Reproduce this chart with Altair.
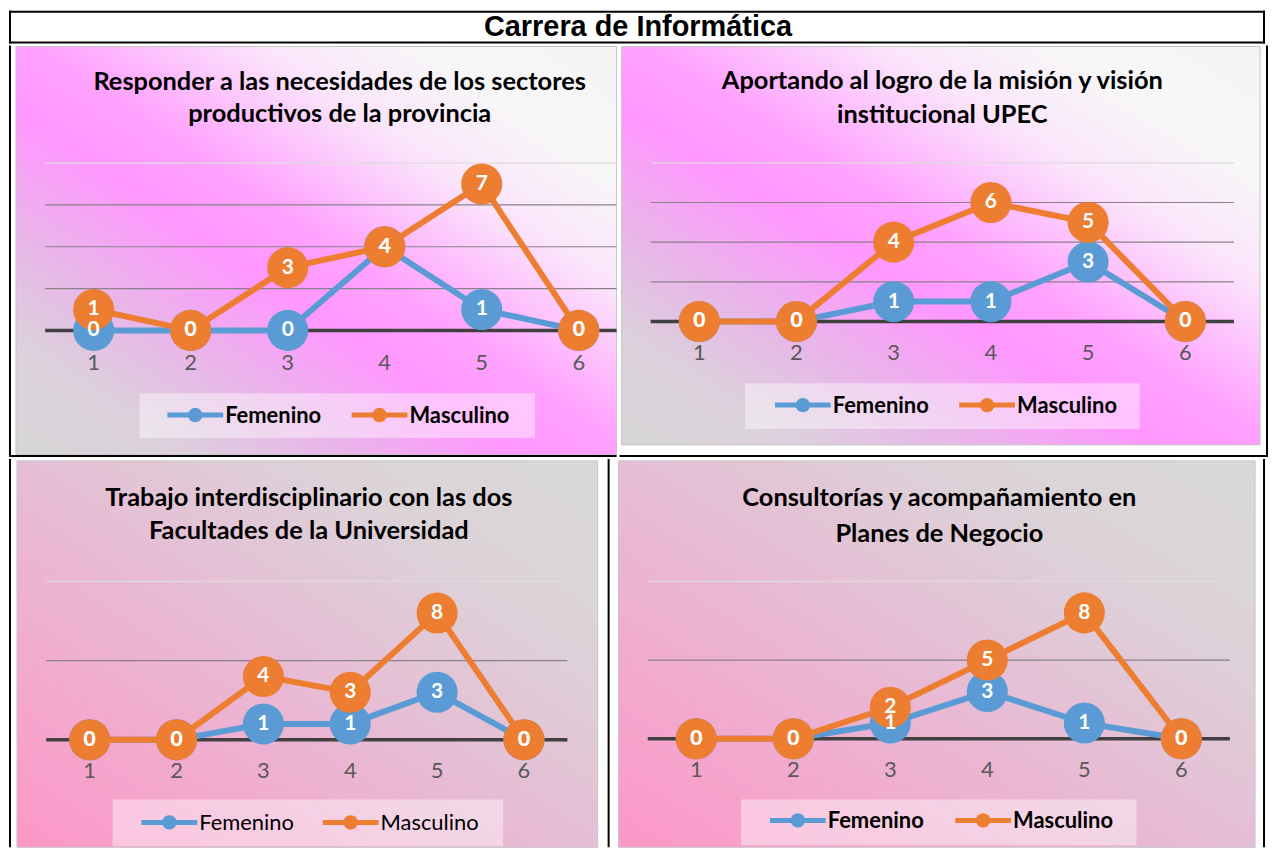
import altair as alt
import pandas as pd

# ---------------- data ----------------
categorias = [1, 2, 3, 4, 5, 6]
series = ["Femenino", "Masculino"]
colores = ["#5B9BD5", "#ED7D31"]

titulo_general = "Carrera de Informática"

titulos = [
    ["Responder a las necesidades de los sectores", "productivos de la provincia"],
    ["Aportando al logro de la misión y visión", "institucional UPEC"],
    ["Trabajo interdisciplinario con las dos", "Facultades de la Universidad"],
    ["Consultorías y acompañamiento en", "Planes de Negocio"],
]

fem_1 = [0, 0, 0, 4, 1, 0]
mas_1 = [1, 0, 3, 4, 7, 0]
fem_2 = [0, 0, 1, 1, 3, 0]
mas_2 = [0, 0, 4, 6, 5, 0]
fem_3 = [0, 0, 1, 1, 3, 0]
mas_3 = [0, 0, 4, 3, 8, 0]
fem_4 = [0, 0, 1, 3, 1, 0]
mas_4 = [0, 0, 2, 5, 8, 0]

rejilla_12 = [2, 4, 6, 8]
rejilla_34 = [5, 10]

# ---------------- style / layout ----------------
FONT = "Lato"


def grad(stops):
    return alt.LinearGradient(
        gradient="linear", x1=0, y1=1, x2=1, y2=0,
        stops=[alt.GradientStop(color=c, offset=o) for o, c in stops])


GRAD_A = grad([(0, "#d6d6d6"), (0.14, "#dcd0dc"), (0.28, "#eab4ea"), (0.42, "#ff97ff"),
               (0.52, "#ffa2ff"), (0.7, "#fbe4fb"), (0.84, "#f7f7f7"), (1, "#f4f4f4")])
GRAD_B = grad([(0, "#fd97c8"), (0.45, "#e8bad4"), (0.75, "#dcd2d8"), (1, "#d9d9d9")])

LAYOUT = [
    dict(W=610, H=413, px1=85, px6=572, zero=286, unit=21.0, bg=(7, 1, 610, 411), grad=GRAD_A,
         cx=332, ty=(37, 69), tick_y=319, box=(131, 349, 528, 394), lx=(159, 344), lcy=371,
         bold=True, borders=("left", "bottom")),
    dict(W=651, H=413, px1=80, px6=568, zero=277, unit=19.9, bg=(2, 1, 643, 401), grad=GRAD_A,
         cx=324, ty=(36, 70), tick_y=309, box=(126, 339, 522, 385), lx=(156, 341), lcy=361,
         bold=True, borders=("right", "bottom")),
    dict(W=603, H=390, px1=81, px6=517, zero=282, unit=15.9, bg=(8, 2, 591, 390), grad=GRAD_B,
         cx=301, ty=(39, 72), tick_y=313, box=(104, 342, 496, 389), lx=(133, 315), lcy=365,
         bold=False, borders=("left", "right")),
    dict(W=658, H=390, px1=87, px6=574, zero=281, unit=15.8, bg=(9, 2, 648, 390), grad=GRAD_B,
         cx=331, ty=(39, 75), tick_y=312, box=(132, 342, 529, 388), lx=(161, 347), lcy=363,
         bold=True, borders=("right",)),
]

ONE = alt.Data(values=[{"k": 0}])
cscale = alt.Scale(domain=series, range=colores)


def border_layers(W, H, sides):
    out = []
    for s in sides:
        if s == "left":
            enc = dict(x=alt.value(1), y=alt.value(0), y2=alt.value(H))
        elif s == "right":
            enc = dict(x=alt.value(W - 1), y=alt.value(0), y2=alt.value(H))
        elif s == "top":
            enc = dict(y=alt.value(1), x=alt.value(0), x2=alt.value(W))
        else:
            enc = dict(y=alt.value(H - 1), x=alt.value(0), x2=alt.value(W))
        out.append(alt.Chart(ONE).mark_rule(color="black", strokeWidth=2).encode(**enc))
    return out


def legend_layers(L):
    out = []
    for k, name in enumerate(series):
        x0 = L["lx"][k]
        y = L["lcy"]
        out.append(alt.Chart(ONE).mark_rule(color=colores[k], strokeWidth=5).encode(
            x=alt.value(x0), x2=alt.value(x0 + 56), y=alt.value(y)))
        out.append(alt.Chart(ONE).mark_circle(color=colores[k], size=210, opacity=1).encode(
            x=alt.value(x0 + 28), y=alt.value(y)))
        out.append(alt.Chart(ONE).mark_text(
            text=name, font=FONT, fontSize=22, fontWeight="bold" if L["bold"] else "normal",
            color="black", align="left", baseline="middle").encode(
            x=alt.value(x0 + 58), y=alt.value(y + 1)))
    return out


def panel(i, fem, mas, rejilla):
    L = LAYOUT[i]
    W, H = L["W"], L["H"]
    step = (L["px6"] - L["px1"]) / 5
    x0 = 1 - L["px1"] / step
    x1 = 1 + (W - L["px1"]) / step
    y1 = L["zero"] / L["unit"]
    y0 = -(H - L["zero"]) / L["unit"]
    xs = alt.Scale(domain=[x0, x1], nice=False, zero=False)
    ys = alt.Scale(domain=[y0, y1], nice=False, zero=False)
    x_end = min(6.5, x1)

    df = pd.DataFrame({
        "x": categorias * 2,
        "serie": [series[0]] * len(categorias) + [series[1]] * len(categorias),
        "v": fem + mas,
    })
    X = alt.X("x:Q", scale=xs, axis=None)
    Y = alt.Y("v:Q", scale=ys, axis=None)
    col = alt.Color("serie:N", scale=cscale, legend=None)

    bx0, by0, bx1, by1 = L["bg"]
    bg = alt.Chart(ONE).mark_rect(fill=L["grad"], stroke="#c6c6c6", strokeWidth=1).encode(
        x=alt.value(bx0), x2=alt.value(bx1), y=alt.value(by0), y2=alt.value(by1))
    lb = L["box"]
    box = alt.Chart(ONE).mark_rect(fill="white", opacity=0.42).encode(
        x=alt.value(lb[0]), x2=alt.value(lb[2]), y=alt.value(lb[1]), y2=alt.value(lb[3]))

    grid_in = alt.Chart(pd.DataFrame({"g": rejilla[:-1]})).transform_calculate(
        xa="0.5", xb=str(x_end)).mark_rule(strokeWidth=1.2, color="#8a808a").encode(
        x=alt.X("xa:Q", scale=xs, axis=None), x2="xb:Q", y=alt.Y("g:Q", scale=ys, axis=None))
    grid_top = alt.Chart(pd.DataFrame({"g": rejilla[-1:]})).transform_calculate(
        xa="0.5", xb=str(x_end)).mark_rule(strokeWidth=1.2, color="#dedade").encode(
        x=alt.X("xa:Q", scale=xs, axis=None), x2="xb:Q", y=alt.Y("g:Q", scale=ys, axis=None))
    zero_line = alt.Chart(pd.DataFrame({"g": [0]})).transform_calculate(
        xa="0.5", xb=str(x_end)).mark_rule(strokeWidth=3.5, color="#404040").encode(
        x=alt.X("xa:Q", scale=xs, axis=None), x2="xb:Q", y=alt.Y("g:Q", scale=ys, axis=None))

    ticks = alt.Chart(pd.DataFrame({"x": categorias})).mark_text(
        font=FONT, fontSize=22, color="#595959", baseline="middle").encode(
        x=X, y=alt.value(L["tick_y"]), text="x:Q")

    t1 = alt.Chart(ONE).mark_text(text=titulos[i][0], font=FONT, fontSize=25.5, fontWeight="bold",
                                  color="black", baseline="middle").encode(
        x=alt.value(L["cx"]), y=alt.value(L["ty"][0]))
    t2 = alt.Chart(ONE).mark_text(text=titulos[i][1], font=FONT, fontSize=25.5, fontWeight="bold",
                                  color="black", baseline="middle").encode(
        x=alt.value(L["cx"]), y=alt.value(L["ty"][1]))

    base = alt.Chart(df)
    lf = base.transform_filter(alt.datum.serie == series[0]).mark_line(strokeWidth=6).encode(
        x=X, y=Y, color=col)
    pf = base.transform_filter(alt.datum.serie == series[0]).mark_circle(size=1700, opacity=1).encode(
        x=X, y=Y, color=col)
    lm = base.transform_filter(alt.datum.serie == series[1]).mark_line(strokeWidth=6).encode(
        x=X, y=Y, color=col)
    pm = base.transform_filter(alt.datum.serie == series[1]).mark_circle(size=1700, opacity=1).encode(
        x=X, y=Y, color=col)
    labels = base.mark_text(font=FONT, fontSize=21, fontWeight="bold", color="white",
                            baseline="middle").encode(x=X, y=Y, text="v:Q")

    layers = [bg, box, grid_in, grid_top, zero_line, ticks, t1, t2, lf, pf, lm, pm, labels]
    layers += legend_layers(L)
    layers += border_layers(W, H, L["borders"])
    return alt.layer(*layers).properties(width=W, height=H)


TW, TH = 1261, 33
title_txt = alt.Chart(ONE).mark_text(text=titulo_general, font="Liberation Sans", fontSize=29,
                                     fontWeight="bold", color="black", baseline="middle").encode(
    x=alt.value(TW / 2 + 1), y=alt.value(16))
title_cell = alt.layer(title_txt, *border_layers(TW, TH, ("left", "right", "top", "bottom"))).properties(
    width=TW, height=TH)

p1 = panel(0, fem_1, mas_1, rejilla_12)
p2 = panel(1, fem_2, mas_2, rejilla_12)
p3 = panel(2, fem_3, mas_3, rejilla_34)
p4 = panel(3, fem_4, mas_4, rejilla_34)

row1 = alt.hconcat(p1, p2, spacing=0)
row2 = alt.hconcat(p3, p4, spacing=0)

chart = alt.vconcat(title_cell, row1, row2, spacing=0).properties(
    padding=0, background="white").configure_view(stroke=None)

chart.save("out.html", embed_options={"renderer": "svg", "actions": False})
